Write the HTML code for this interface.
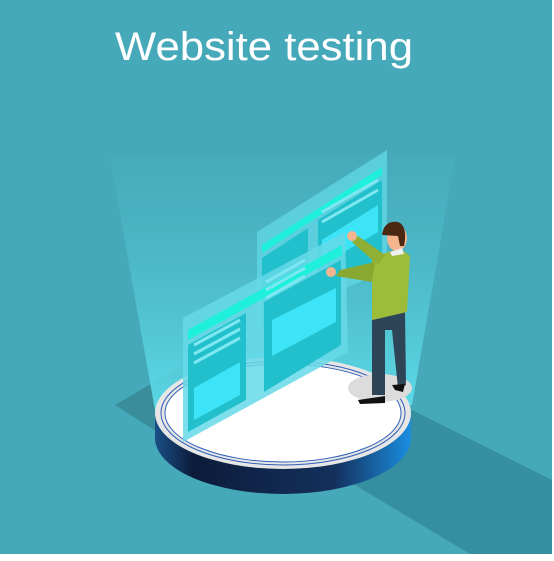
<!DOCTYPE html>
<html><head><style>
html,body{margin:0;padding:0;}
body{width:554px;height:556px;overflow:hidden;background:#fff;}
</style></head><body>
<svg width="554" height="556" viewBox="0 0 554 556" xmlns="http://www.w3.org/2000/svg">
<defs>
<linearGradient id="beam" x1="0" y1="0" x2="0" y2="1">
<stop offset="0" stop-color="#4ab3c2" stop-opacity="0.3"/>
<stop offset="1" stop-color="#5fe0ee" stop-opacity="0.9"/>
</linearGradient>
<linearGradient id="side" x1="0" y1="0" x2="1" y2="0">
<stop offset="0" stop-color="#1a4f86"/>
<stop offset="0.15" stop-color="#0c1c3a"/>
<stop offset="0.7" stop-color="#14305c"/>
<stop offset="1" stop-color="#1a8ee0"/>
</linearGradient>
</defs>
<rect x="0" y="0" width="552" height="554" fill="#45a9b9"/>
<rect x="552" y="0" width="2" height="556" fill="#fff"/>
<rect x="0" y="554" width="554" height="2" fill="#fff"/>
<polygon points="115,405 200,355 260,380 170,440" fill="#3a8e9c"/>
<polygon points="330,470 412,410 552,480 552,554 470,554" fill="#2f8595" opacity="0.7"/>
<polygon points="110,158 455,158 412,405 155,410" fill="url(#beam)"/>
<text x="115" y="60" textLength="298" lengthAdjust="spacingAndGlyphs" font-family="Liberation Sans, sans-serif" font-size="40" fill="#fff">Website testing</text>
<path d="M155,413 L155,438 A128,56 0 0 0 411,438 L411,413 Z" fill="url(#side)"/>
<ellipse cx="283" cy="413" rx="128" ry="56" fill="#e6e6e6"/>
<ellipse cx="283" cy="413" rx="118" ry="49" fill="#fff" stroke="#2d5fb8" stroke-width="1"/>
<ellipse cx="283" cy="413" rx="122" ry="52" fill="none" stroke="#2d5fb8" stroke-width="1"/>
<ellipse cx="380" cy="388" rx="32" ry="14" fill="#dcdcdc"/>
<polygon points="257,232 387,150 387,270 257,327" fill="#5fd3e3" opacity="0.85"/>
<polygon points="262,245 382,167 382,175 262,253" fill="#1ef0dc"/>
<polygon points="262,258 308,228 308,300 262,325" fill="#22c0cc"/>
<polygon points="318,220 382,180 382,262 318,290" fill="#22c0cc"/>
<polygon points="322,240 378,205 378,232 322,265" fill="#3de4f8"/>
<polygon points="183,318 345,232 348,352 183,442" fill="#66d9e8" opacity="0.85"/>
<polygon points="188,330 342,245 342,255 188,340" fill="#1ef0dc"/>
<polygon points="188,345 246,313 246,400 188,432" fill="#22c0cc"/>
<polygon points="194,388 240,362 240,395 194,420" fill="#3de4f8"/>
<polygon points="264,302 341,260 341,345 264,392" fill="#22c0cc"/>
<polygon points="272,320 336,288 336,322 272,356" fill="#3de4f8"/>
<g stroke="#7ee8f2" stroke-width="3">
<line x1="194" y1="345" x2="240" y2="320"/><line x1="194" y1="354" x2="240" y2="329"/>
<line x1="194" y1="363" x2="240" y2="338"/><line x1="266" y1="282" x2="305" y2="260"/>
<line x1="266" y1="290" x2="305" y2="268"/><line x1="266" y1="298" x2="305" y2="276"/>
<line x1="322" y1="212" x2="378" y2="180"/><line x1="322" y1="222" x2="378" y2="190"/>
</g>
<polygon points="372,320 405,312 406,385 398,388 392,330 385,330 385,395 372,395" fill="#2e4457"/>
<path d="M358,400 L385,396 L385,403 L360,404 Z" fill="#111"/>
<path d="M392,385 L405,384 L403,392 L395,390 Z" fill="#111"/>
<path d="M372,258 L400,248 L410,256 L407,312 L372,320 Z" fill="#9cbc3a"/>
<path d="M375,262 L340,270 L336,276 L372,282 Z" fill="#88a832"/>
<path d="M385,255 L358,236 L352,242 L378,265 Z" fill="#8fb035"/>
<circle cx="331" cy="272" r="5" fill="#f4b48e"/>
<circle cx="352" cy="236" r="5" fill="#f4b48e"/>
<ellipse cx="397" cy="238" rx="10" ry="13" fill="#f4b48e"/>
<path d="M382,235 Q384,220 398,222 Q408,226 404,246 L400,246 L398,236 Z" fill="#4a2812"/>
<path d="M390,252 L402,248 L404,254 L392,256 Z" fill="#f0f0f0"/>
</svg>
</body></html>
